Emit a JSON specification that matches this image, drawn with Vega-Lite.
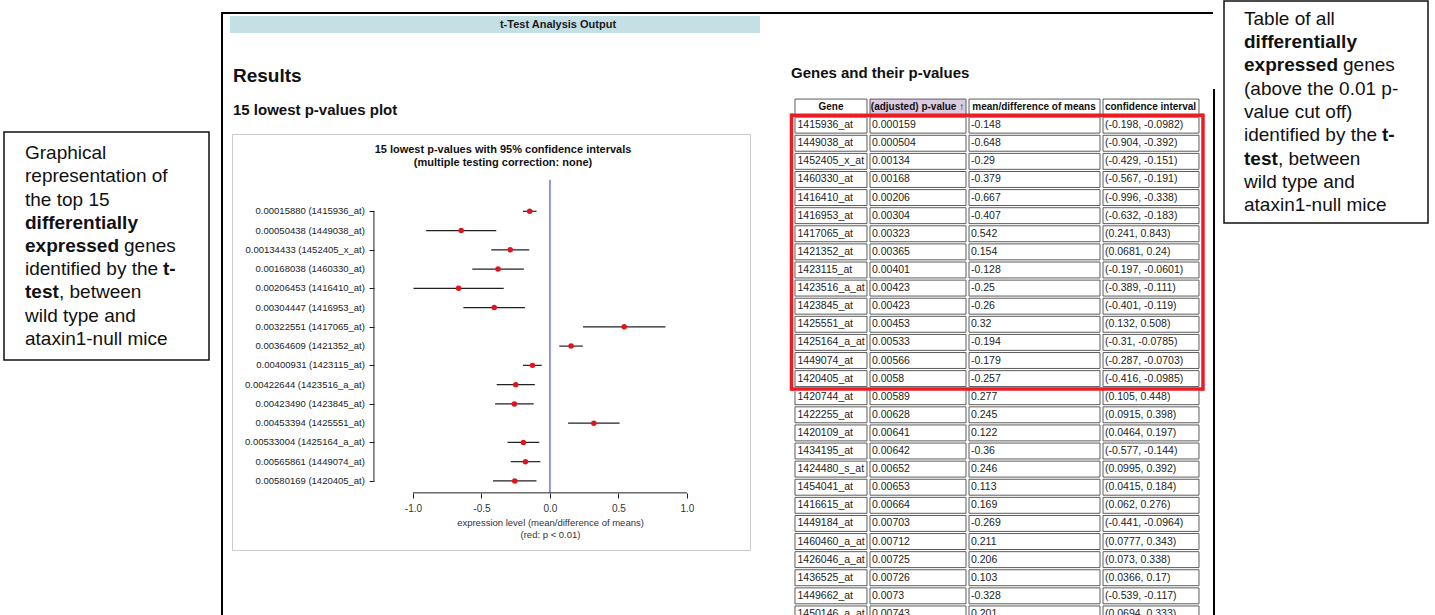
{
  "$schema": "https://vega.github.io/schema/vega-lite/v6.json",
  "padding": {"left": 3, "top": 0, "right": 0, "bottom": 0},
  "background": "white",
  "spacing": 0,
  "config": {"view": {"stroke": null}, "font": "Liberation Sans", "concat": {"spacing": 0}},
  "datasets": {
    "forest": [
      {"idx": 1, "label": "0.00015880 (1415936_at)", "mean": -0.148, "lo": -0.198, "hi": -0.0982},
      {"idx": 2, "label": "0.00050438 (1449038_at)", "mean": -0.648, "lo": -0.904, "hi": -0.392},
      {"idx": 3, "label": "0.00134433 (1452405_x_at)", "mean": -0.29, "lo": -0.429, "hi": -0.151},
      {"idx": 4, "label": "0.00168038 (1460330_at)", "mean": -0.379, "lo": -0.567, "hi": -0.191},
      {"idx": 5, "label": "0.00206453 (1416410_at)", "mean": -0.667, "lo": -0.996, "hi": -0.338},
      {"idx": 6, "label": "0.00304447 (1416953_at)", "mean": -0.407, "lo": -0.632, "hi": -0.183},
      {"idx": 7, "label": "0.00322551 (1417065_at)", "mean": 0.542, "lo": 0.241, "hi": 0.843},
      {"idx": 8, "label": "0.00364609 (1421352_at)", "mean": 0.154, "lo": 0.0681, "hi": 0.24},
      {"idx": 9, "label": "0.00400931 (1423115_at)", "mean": -0.128, "lo": -0.197, "hi": -0.0601},
      {"idx": 10, "label": "0.00422644 (1423516_a_at)", "mean": -0.25, "lo": -0.389, "hi": -0.111},
      {"idx": 11, "label": "0.00423490 (1423845_at)", "mean": -0.26, "lo": -0.401, "hi": -0.119},
      {"idx": 12, "label": "0.00453394 (1425551_at)", "mean": 0.32, "lo": 0.132, "hi": 0.508},
      {"idx": 13, "label": "0.00533004 (1425164_a_at)", "mean": -0.194, "lo": -0.31, "hi": -0.0785},
      {"idx": 14, "label": "0.00565861 (1449074_at)", "mean": -0.179, "lo": -0.287, "hi": -0.0703},
      {"idx": 15, "label": "0.00580169 (1420405_at)", "mean": -0.257, "lo": -0.416, "hi": -0.0985}
    ],
    "genes": [
      {"row": 1, "gene": "1415936_at", "p": "0.000159", "mean": "-0.148", "ci": "(-0.198, -0.0982)"},
      {"row": 2, "gene": "1449038_at", "p": "0.000504", "mean": "-0.648", "ci": "(-0.904, -0.392)"},
      {"row": 3, "gene": "1452405_x_at", "p": "0.00134", "mean": "-0.29", "ci": "(-0.429, -0.151)"},
      {"row": 4, "gene": "1460330_at", "p": "0.00168", "mean": "-0.379", "ci": "(-0.567, -0.191)"},
      {"row": 5, "gene": "1416410_at", "p": "0.00206", "mean": "-0.667", "ci": "(-0.996, -0.338)"},
      {"row": 6, "gene": "1416953_at", "p": "0.00304", "mean": "-0.407", "ci": "(-0.632, -0.183)"},
      {"row": 7, "gene": "1417065_at", "p": "0.00323", "mean": "0.542", "ci": "(0.241, 0.843)"},
      {"row": 8, "gene": "1421352_at", "p": "0.00365", "mean": "0.154", "ci": "(0.0681, 0.24)"},
      {"row": 9, "gene": "1423115_at", "p": "0.00401", "mean": "-0.128", "ci": "(-0.197, -0.0601)"},
      {"row": 10, "gene": "1423516_a_at", "p": "0.00423", "mean": "-0.25", "ci": "(-0.389, -0.111)"},
      {"row": 11, "gene": "1423845_at", "p": "0.00423", "mean": "-0.26", "ci": "(-0.401, -0.119)"},
      {"row": 12, "gene": "1425551_at", "p": "0.00453", "mean": "0.32", "ci": "(0.132, 0.508)"},
      {"row": 13, "gene": "1425164_a_at", "p": "0.00533", "mean": "-0.194", "ci": "(-0.31, -0.0785)"},
      {"row": 14, "gene": "1449074_at", "p": "0.00566", "mean": "-0.179", "ci": "(-0.287, -0.0703)"},
      {"row": 15, "gene": "1420405_at", "p": "0.0058", "mean": "-0.257", "ci": "(-0.416, -0.0985)"},
      {"row": 16, "gene": "1420744_at", "p": "0.00589", "mean": "0.277", "ci": "(0.105, 0.448)"},
      {"row": 17, "gene": "1422255_at", "p": "0.00628", "mean": "0.245", "ci": "(0.0915, 0.398)"},
      {"row": 18, "gene": "1420109_at", "p": "0.00641", "mean": "0.122", "ci": "(0.0464, 0.197)"},
      {"row": 19, "gene": "1434195_at", "p": "0.00642", "mean": "-0.36", "ci": "(-0.577, -0.144)"},
      {"row": 20, "gene": "1424480_s_at", "p": "0.00652", "mean": "0.246", "ci": "(0.0995, 0.392)"},
      {"row": 21, "gene": "1454041_at", "p": "0.00653", "mean": "0.113", "ci": "(0.0415, 0.184)"},
      {"row": 22, "gene": "1416615_at", "p": "0.00664", "mean": "0.169", "ci": "(0.062, 0.276)"},
      {"row": 23, "gene": "1449184_at", "p": "0.00703", "mean": "-0.269", "ci": "(-0.441, -0.0964)"},
      {"row": 24, "gene": "1460460_a_at", "p": "0.00712", "mean": "0.211", "ci": "(0.0777, 0.343)"},
      {"row": 25, "gene": "1426046_a_at", "p": "0.00725", "mean": "0.206", "ci": "(0.073, 0.338)"},
      {"row": 26, "gene": "1436525_at", "p": "0.00726", "mean": "0.103", "ci": "(0.0366, 0.17)"},
      {"row": 27, "gene": "1449662_at", "p": "0.0073", "mean": "-0.328", "ci": "(-0.539, -0.117)"},
      {"row": 28, "gene": "1450146_a_at", "p": "0.00743", "mean": "0.201", "ci": "(0.0694, 0.333)"}
    ],
    "annoLeft": [
      {"line": 1, "seg": 1, "text": "Graphical", "emphasis": false},
      {"line": 2, "seg": 1, "text": "representation of", "emphasis": false},
      {"line": 3, "seg": 1, "text": "the top 15", "emphasis": false},
      {"line": 4, "seg": 1, "text": "differentially", "emphasis": true},
      {"line": 5, "seg": 1, "text": "expressed", "emphasis": true},
      {"line": 5, "seg": 2, "text": "genes", "after": "expressed", "emphasis": false},
      {"line": 6, "seg": 1, "text": "identified by the", "emphasis": false},
      {"line": 6, "seg": 2, "text": "t-", "after": "identified by the", "emphasis": true},
      {"line": 7, "seg": 1, "text": "test", "emphasis": true},
      {"line": 7, "seg": 2, "text": ", between", "after": "test", "emphasis": false},
      {"line": 8, "seg": 1, "text": "wild type and", "emphasis": false},
      {"line": 9, "seg": 1, "text": "ataxin1-null mice", "emphasis": false}
    ],
    "annoRight": [
      {"line": 1, "seg": 1, "text": "Table of all", "emphasis": false},
      {"line": 2, "seg": 1, "text": "differentially", "emphasis": true},
      {"line": 3, "seg": 1, "text": "expressed", "emphasis": true},
      {"line": 3, "seg": 2, "text": "genes", "after": "expressed", "emphasis": false},
      {"line": 4, "seg": 1, "text": "(above the 0.01 p-", "emphasis": false},
      {"line": 5, "seg": 1, "text": "value cut off)", "emphasis": false},
      {"line": 6, "seg": 1, "text": "identified by the", "emphasis": false},
      {"line": 6, "seg": 2, "text": "t-", "after": "identified by the", "emphasis": true},
      {"line": 7, "seg": 1, "text": "test", "emphasis": true},
      {"line": 7, "seg": 2, "text": ", between", "after": "test", "emphasis": false},
      {"line": 8, "seg": 1, "text": "wild type and", "emphasis": false},
      {"line": 9, "seg": 1, "text": "ataxin1-null mice", "emphasis": false}
    ]
  },
  "hconcat": [
    {
      "spacing": 0,
      "vconcat": [
        {"width": 205, "height": 130, "data": {"values": []}, "mark": "point", "encoding": {}},
        {
          "width": 205, "height": 228,
          "view": {"stroke": "#111", "strokeWidth": 1.5, "fill": "white"},
          "data": {"name": "annoLeft"},
          "encoding": {
            "x": {"datum": 0, "type": "quantitative", "scale": {"domain": [0, 1]}, "axis": null},
            "y": {"field": "line", "type": "ordinal", "scale": {"type": "point", "padding": 0.91}, "axis": null}
          },
          "layer": [
            {"transform": [{"filter": "datum.seg == 1 && !datum.emphasis"}], "mark": {"type": "text", "align": "left", "baseline": "middle", "dx": 21, "fontSize": 19, "color": "#111"}, "encoding": {"text": {"field": "text"}}},
            {"transform": [{"filter": "datum.seg == 1 && datum.emphasis"}], "mark": {"type": "text", "align": "left", "baseline": "middle", "dx": 21, "fontSize": 19, "fontWeight": "bold", "color": "#111"}, "encoding": {"text": {"field": "text"}}},
            {"transform": [{"filter": "datum.after == 'expressed'"}], "mark": {"type": "text", "align": "left", "baseline": "middle", "dx": 120, "fontSize": 19, "color": "#111"}, "encoding": {"text": {"field": "text"}}},
            {"transform": [{"filter": "datum.after == 'identified by the'"}], "mark": {"type": "text", "align": "left", "baseline": "middle", "dx": 159, "fontSize": 19, "fontWeight": "bold", "color": "#111"}, "encoding": {"text": {"field": "text"}}},
            {"transform": [{"filter": "datum.after == 'test'"}], "mark": {"type": "text", "align": "left", "baseline": "middle", "dx": 55, "fontSize": 19, "color": "#111"}, "encoding": {"text": {"field": "text"}}}
          ]
        }
      ]
    },
    {"width": 11, "height": 10, "data": {"values": []}, "mark": "point", "encoding": {}},
    {
      "spacing": 0,
      "vconcat": [
        {"width": 2, "height": 11, "data": {"values": []}, "mark": "point", "encoding": {}},
        {"width": 2, "height": 604, "view": {"fill": "#000"}, "data": {"values": []}, "mark": "point", "encoding": {}}
      ]
    },
    {
      "spacing": 0,
      "vconcat": [
        {"width": 990, "height": 11, "data": {"values": []}, "mark": "point", "encoding": {}},
        {"width": 990, "height": 2, "view": {"fill": "#000"}, "data": {"values": []}, "mark": "point", "encoding": {}},
        {"width": 990, "height": 2, "data": {"values": []}, "mark": "point", "encoding": {}},
        {
          "spacing": 0,
          "hconcat": [
            {"width": 7, "height": 17, "data": {"values": []}, "mark": "point", "encoding": {}},
            {
              "width": 530, "height": 17,
              "view": {"fill": "#c4e0e5"},
              "data": {"values": [{"caption": "t-Test Analysis Output"}]},
              "mark": {"type": "text", "fontWeight": "bold", "fontSize": 11, "dx": 63, "color": "#1a1a1a"},
              "encoding": {"text": {"field": "caption"}}
            }
          ]
        },
        {
          "spacing": 0,
          "hconcat": [
            {"width": 8, "height": 10, "data": {"values": []}, "mark": "point", "encoding": {}},
            {
              "spacing": 0,
              "vconcat": [
                {
                  "width": 518, "height": 100,
                  "data": {"values": []}, "mark": "point", "encoding": {},
                  "title": {"text": "Results", "subtitle": "15 lowest p-values plot", "anchor": "start", "orient": "top", "frame": "group", "offset": -85, "dx": 1, "fontSize": 19, "fontWeight": "bold", "color": "#111", "subtitleFontSize": 15, "subtitleFontWeight": "bold", "subtitleColor": "#111", "subtitleFont": "Liberation Sans", "subtitlePadding": 17}
                },
                {
                  "width": 518, "height": 416,
                  "view": {"stroke": "#cccccc", "strokeWidth": 1, "fill": "white"},
                  "title": {"text": ["15 lowest p-values with 95% confidence intervals", "(multiple testing correction: none)"], "anchor": "middle", "orient": "top", "frame": "group", "offset": -34, "dx": 12, "fontSize": 11, "fontWeight": "bold", "color": "#111", "lineHeight": 13},
                  "layer": [
                    {
                      "data": {"name": "forest"},
                      "mark": {"type": "rule", "color": "#222", "strokeWidth": 1.2},
                      "encoding": {
                        "x": {"field": "lo", "type": "quantitative", "scale": {"domain": [-2.321, 1.46], "nice": false, "zero": false},
                          "axis": {"values": [-1, -0.5, 0, 0.5, 1], "format": ".1f", "labelExpr": "replace(datum.label, '\u2212', '-')", "domain": false, "grid": false, "ticks": true, "tickSize": 5, "tickColor": "#222", "labelFontSize": 10, "labelColor": "#333", "labelPadding": 5, "offset": -57,
                            "title": ["expression level (mean/difference of means)", "(red: p < 0.01)"], "titleFontSize": 9.5, "titleFontWeight": "normal", "titleColor": "#333", "titleX": 318, "titleY": 24, "titleBaseline": "top", "titleAlign": "center", "titleAnchor": null, "titleLineHeight": 12}},
                        "x2": {"field": "hi"},
                        "y": {"field": "idx", "type": "quantitative", "scale": {"domain": [-3.013, 18.586], "reverse": true, "nice": false, "zero": false},
                          "axis": {"values": [1, 2, 3, 4, 5, 6, 7, 8, 9, 10, 11, 12, 13, 14, 15], "labels": false, "domain": false, "grid": false, "ticks": true, "tickSize": 5, "tickColor": "#222", "offset": -142, "title": null}}
                      }
                    },
                    {
                      "data": {"values": [{}]},
                      "mark": {"type": "rule", "color": "#2b2bd6", "strokeWidth": 1},
                      "encoding": {"x": {"datum": 0, "type": "quantitative"}, "y": {"datum": -0.636, "type": "quantitative"}, "y2": {"datum": 15.62}}
                    },
                    {
                      "data": {"values": [{}]},
                      "mark": {"type": "rule", "color": "#222", "strokeWidth": 1},
                      "encoding": {"x": {"datum": -1, "type": "quantitative"}, "x2": {"datum": 1}, "y": {"datum": 15.62, "type": "quantitative"}}
                    },
                    {
                      "data": {"values": [{}]},
                      "mark": {"type": "rule", "color": "#222", "strokeWidth": 1},
                      "encoding": {"x": {"datum": -1.285, "type": "quantitative"}, "y": {"datum": 1, "type": "quantitative"}, "y2": {"datum": 15}}
                    },
                    {
                      "data": {"name": "forest"},
                      "mark": {"type": "point", "filled": true, "color": "#e3121b", "size": 30, "opacity": 1},
                      "encoding": {"x": {"field": "mean", "type": "quantitative"}, "y": {"field": "idx", "type": "quantitative"}}
                    },
                    {
                      "data": {"name": "forest"},
                      "mark": {"type": "text", "align": "right", "baseline": "middle", "dx": -9, "fontSize": 9.5, "color": "#222"},
                      "encoding": {"x": {"datum": -1.285, "type": "quantitative"}, "y": {"field": "idx", "type": "quantitative"}, "text": {"field": "label"}}
                    }
                  ]
                }
              ]
            },
            {"width": 37, "height": 10, "data": {"values": []}, "mark": "point", "encoding": {}},
            {
              "spacing": 0,
              "vconcat": [
                {
                  "width": 418, "height": 65,
                  "data": {"values": []}, "mark": "point", "encoding": {},
                  "title": {"text": "Genes and their p-values", "anchor": "start", "orient": "top", "frame": "group", "offset": -48, "dx": 3, "fontSize": 15, "fontWeight": "bold", "color": "#111"}
                },
                {
                  "spacing": 0,
                  "hconcat": [
                    {
                      "width": 81, "height": 518,
                      "layer": [
                        {"data": {"values": [{"h": "Gene"}]}, "mark": {"type": "rect", "fill": "white", "stroke": "#5c5c5c", "strokeWidth": 1},
                          "encoding": {"x": {"datum": 0, "type": "quantitative", "scale": {"domain": [-0.0972, 1.0278], "nice": false, "zero": false}, "axis": null}, "x2": {"datum": 1},
                            "y": {"datum": 0, "type": "ordinal", "scale": {"type": "band", "domain": [0,1,2,3,4,5,6,7,8,9,10,11,12,13,14,15,16,17,18,19,20,21,22,23,24,25,26,27,28], "range": [0, 525], "paddingInner": 0.12, "paddingOuter": 0.06}, "axis": null}}},
                        {"data": {"values": [{"h": "Gene"}]}, "mark": {"type": "text", "fontWeight": "bold", "fontSize": 10, "align": "center", "baseline": "middle", "color": "#111"},
                          "encoding": {"x": {"datum": 0.5, "type": "quantitative"}, "y": {"datum": 0, "type": "ordinal"}, "text": {"field": "h"}}},
                        {"data": {"name": "genes"}, "mark": {"type": "rect", "fill": "white", "stroke": "#5c5c5c", "strokeWidth": 1, "clip": true},
                          "encoding": {"x": {"datum": 0, "type": "quantitative"}, "x2": {"datum": 1}, "y": {"field": "row", "type": "ordinal"}}},
                        {"data": {"name": "genes"}, "mark": {"type": "text", "align": "left", "baseline": "middle", "dx": 2.5, "fontSize": 10.5, "color": "#222", "clip": true},
                          "encoding": {"x": {"datum": 0, "type": "quantitative"}, "y": {"field": "row", "type": "ordinal"}, "text": {"field": "gene"}}},
                        {"data": {"values": [{}]}, "mark": {"type": "rect", "color": "#ec1c24", "height": 3.5, "yOffset": -10},
                          "encoding": {"x": {"datum": -0.0556, "type": "quantitative"}, "x2": {"datum": 1.0278}, "y": {"datum": 1, "type": "ordinal"}}},
                        {"data": {"values": [{}]}, "mark": {"type": "rect", "color": "#ec1c24", "height": 3.5, "yOffset": 10.5},
                          "encoding": {"x": {"datum": -0.0556, "type": "quantitative"}, "x2": {"datum": 1.0278}, "y": {"datum": 15, "type": "ordinal"}}},
                        {"data": {"values": [{}]}, "mark": {"type": "rule", "color": "#ec1c24", "strokeWidth": 3.5, "strokeCap": "square", "yOffset": -10, "y2Offset": 10.5},
                          "encoding": {"x": {"datum": -0.0486, "type": "quantitative"}, "y": {"datum": 1, "type": "ordinal"}, "y2": {"datum": 15}}}
                      ]
                    },
                    {
                      "width": 99, "height": 518,
                      "layer": [
                        {"data": {"values": [{"h": "(adjusted) p-value \u2191"}]}, "mark": {"type": "rect", "fill": "#dccbe0", "stroke": "#5c5c5c", "strokeWidth": 1, "xOffset": 1},
                          "encoding": {"x": {"datum": 0, "type": "quantitative", "scale": {"domain": [0, 1.0206], "nice": false, "zero": false}, "axis": null}, "x2": {"datum": 1},
                            "y": {"datum": 0, "type": "ordinal", "scale": {"type": "band", "domain": [0,1,2,3,4,5,6,7,8,9,10,11,12,13,14,15,16,17,18,19,20,21,22,23,24,25,26,27,28], "range": [0, 525], "paddingInner": 0.12, "paddingOuter": 0.06}, "axis": null}}},
                        {"data": {"values": [{"h": "(adjusted) p-value \u2191"}]}, "mark": {"type": "text", "fontWeight": "bold", "fontSize": 10, "align": "center", "baseline": "middle", "color": "#111"},
                          "encoding": {"x": {"datum": 0.5, "type": "quantitative"}, "y": {"datum": 0, "type": "ordinal"}, "text": {"field": "h"}}},
                        {"data": {"name": "genes"}, "mark": {"type": "rect", "fill": "white", "stroke": "#5c5c5c", "strokeWidth": 1, "clip": true, "xOffset": 1},
                          "encoding": {"x": {"datum": 0, "type": "quantitative"}, "x2": {"datum": 1}, "y": {"field": "row", "type": "ordinal"}}},
                        {"data": {"name": "genes"}, "mark": {"type": "text", "align": "left", "baseline": "middle", "dx": 3, "fontSize": 10.5, "color": "#222", "clip": true},
                          "encoding": {"x": {"datum": 0, "type": "quantitative"}, "y": {"field": "row", "type": "ordinal"}, "text": {"field": "p"}}},
                        {"data": {"values": [{}]}, "mark": {"type": "rect", "color": "#ec1c24", "height": 3.5, "yOffset": -10},
                          "encoding": {"x": {"datum": 0, "type": "quantitative"}, "x2": {"datum": 1.0206}, "y": {"datum": 1, "type": "ordinal"}}},
                        {"data": {"values": [{}]}, "mark": {"type": "rect", "color": "#ec1c24", "height": 3.5, "yOffset": 10.5},
                          "encoding": {"x": {"datum": 0, "type": "quantitative"}, "x2": {"datum": 1.0206}, "y": {"datum": 15, "type": "ordinal"}}}
                      ]
                    },
                    {
                      "width": 134, "height": 518,
                      "layer": [
                        {"data": {"values": [{"h": "mean/difference of means"}]}, "mark": {"type": "rect", "fill": "white", "stroke": "#5c5c5c", "strokeWidth": 1, "xOffset": 1},
                          "encoding": {"x": {"datum": 0, "type": "quantitative", "scale": {"domain": [0, 1.01515], "nice": false, "zero": false}, "axis": null}, "x2": {"datum": 1},
                            "y": {"datum": 0, "type": "ordinal", "scale": {"type": "band", "domain": [0,1,2,3,4,5,6,7,8,9,10,11,12,13,14,15,16,17,18,19,20,21,22,23,24,25,26,27,28], "range": [0, 525], "paddingInner": 0.12, "paddingOuter": 0.06}, "axis": null}}},
                        {"data": {"values": [{"h": "mean/difference of means"}]}, "mark": {"type": "text", "fontWeight": "bold", "fontSize": 10, "align": "center", "baseline": "middle", "color": "#111"},
                          "encoding": {"x": {"datum": 0.5, "type": "quantitative"}, "y": {"datum": 0, "type": "ordinal"}, "text": {"field": "h"}}},
                        {"data": {"name": "genes"}, "mark": {"type": "rect", "fill": "white", "stroke": "#5c5c5c", "strokeWidth": 1, "clip": true, "xOffset": 1},
                          "encoding": {"x": {"datum": 0, "type": "quantitative"}, "x2": {"datum": 1}, "y": {"field": "row", "type": "ordinal"}}},
                        {"data": {"name": "genes"}, "mark": {"type": "text", "align": "left", "baseline": "middle", "dx": 3, "fontSize": 10.5, "color": "#222", "clip": true},
                          "encoding": {"x": {"datum": 0, "type": "quantitative"}, "y": {"field": "row", "type": "ordinal"}, "text": {"field": "mean"}}},
                        {"data": {"values": [{}]}, "mark": {"type": "rect", "color": "#ec1c24", "height": 3.5, "yOffset": -10},
                          "encoding": {"x": {"datum": 0, "type": "quantitative"}, "x2": {"datum": 1.01515}, "y": {"datum": 1, "type": "ordinal"}}},
                        {"data": {"values": [{}]}, "mark": {"type": "rect", "color": "#ec1c24", "height": 3.5, "yOffset": 10.5},
                          "encoding": {"x": {"datum": 0, "type": "quantitative"}, "x2": {"datum": 1.01515}, "y": {"datum": 15, "type": "ordinal"}}}
                      ]
                    },
                    {
                      "width": 104, "height": 518,
                      "layer": [
                        {"data": {"values": [{"h": "confidence interval"}]}, "mark": {"type": "rect", "fill": "white", "stroke": "#5c5c5c", "strokeWidth": 1, "xOffset": 1},
                          "encoding": {"x": {"datum": 0, "type": "quantitative", "scale": {"domain": [0, 1.0722], "nice": false, "zero": false}, "axis": null}, "x2": {"datum": 1},
                            "y": {"datum": 0, "type": "ordinal", "scale": {"type": "band", "domain": [0,1,2,3,4,5,6,7,8,9,10,11,12,13,14,15,16,17,18,19,20,21,22,23,24,25,26,27,28], "range": [0, 525], "paddingInner": 0.12, "paddingOuter": 0.06}, "axis": null}}},
                        {"data": {"values": [{"h": "confidence interval"}]}, "mark": {"type": "text", "fontWeight": "bold", "fontSize": 10, "align": "center", "baseline": "middle", "color": "#111"},
                          "encoding": {"x": {"datum": 0.5, "type": "quantitative"}, "y": {"datum": 0, "type": "ordinal"}, "text": {"field": "h"}}},
                        {"data": {"name": "genes"}, "mark": {"type": "rect", "fill": "white", "stroke": "#5c5c5c", "strokeWidth": 1, "clip": true, "xOffset": 1},
                          "encoding": {"x": {"datum": 0, "type": "quantitative"}, "x2": {"datum": 1}, "y": {"field": "row", "type": "ordinal"}}},
                        {"data": {"name": "genes"}, "mark": {"type": "text", "align": "left", "baseline": "middle", "dx": 3, "fontSize": 10.5, "color": "#222", "clip": true},
                          "encoding": {"x": {"datum": 0, "type": "quantitative"}, "y": {"field": "row", "type": "ordinal"}, "text": {"field": "ci"}}},
                        {"data": {"values": [{}]}, "mark": {"type": "rect", "color": "#ec1c24", "height": 3.5, "yOffset": -10},
                          "encoding": {"x": {"datum": 0, "type": "quantitative"}, "x2": {"datum": 1.0412}, "y": {"datum": 1, "type": "ordinal"}}},
                        {"data": {"values": [{}]}, "mark": {"type": "rect", "color": "#ec1c24", "height": 3.5, "yOffset": 10.5},
                          "encoding": {"x": {"datum": 0, "type": "quantitative"}, "x2": {"datum": 1.0412}, "y": {"datum": 15, "type": "ordinal"}}},
                        {"data": {"values": [{}]}, "mark": {"type": "rule", "color": "#ec1c24", "strokeWidth": 3.5, "strokeCap": "square", "yOffset": -10, "y2Offset": 10.5},
                          "encoding": {"x": {"datum": 1.0412, "type": "quantitative"}, "y": {"datum": 1, "type": "ordinal"}, "y2": {"datum": 15}}}
                      ]
                    }
                  ]
                }
              ]
            }
          ]
        }
      ]
    },
    {
      "spacing": 0,
      "vconcat": [
        {"width": 2, "height": 88, "data": {"values": []}, "mark": "point", "encoding": {}},
        {"width": 2, "height": 527, "view": {"fill": "#000"}, "data": {"values": []}, "mark": "point", "encoding": {}}
      ]
    },
    {"width": 8, "height": 10, "data": {"values": []}, "mark": "point", "encoding": {}},
    {
      "width": 204, "height": 222,
      "view": {"stroke": "#111", "strokeWidth": 1.5, "fill": "white"},
      "data": {"name": "annoRight"},
      "encoding": {
        "x": {"datum": 0, "type": "quantitative", "scale": {"domain": [0, 1]}, "axis": null},
        "y": {"field": "line", "type": "ordinal", "scale": {"type": "point", "padding": 0.75}, "axis": null}
      },
      "layer": [
        {"transform": [{"filter": "datum.seg == 1 && !datum.emphasis"}], "mark": {"type": "text", "align": "left", "baseline": "middle", "dx": 20, "fontSize": 19, "color": "#111"}, "encoding": {"text": {"field": "text"}}},
        {"transform": [{"filter": "datum.seg == 1 && datum.emphasis"}], "mark": {"type": "text", "align": "left", "baseline": "middle", "dx": 20, "fontSize": 19, "fontWeight": "bold", "color": "#111"}, "encoding": {"text": {"field": "text"}}},
        {"transform": [{"filter": "datum.after == 'expressed'"}], "mark": {"type": "text", "align": "left", "baseline": "middle", "dx": 119, "fontSize": 19, "color": "#111"}, "encoding": {"text": {"field": "text"}}},
        {"transform": [{"filter": "datum.after == 'identified by the'"}], "mark": {"type": "text", "align": "left", "baseline": "middle", "dx": 158, "fontSize": 19, "fontWeight": "bold", "color": "#111"}, "encoding": {"text": {"field": "text"}}},
        {"transform": [{"filter": "datum.after == 'test'"}], "mark": {"type": "text", "align": "left", "baseline": "middle", "dx": 54, "fontSize": 19, "color": "#111"}, "encoding": {"text": {"field": "text"}}}
      ]
    }
  ]
}
